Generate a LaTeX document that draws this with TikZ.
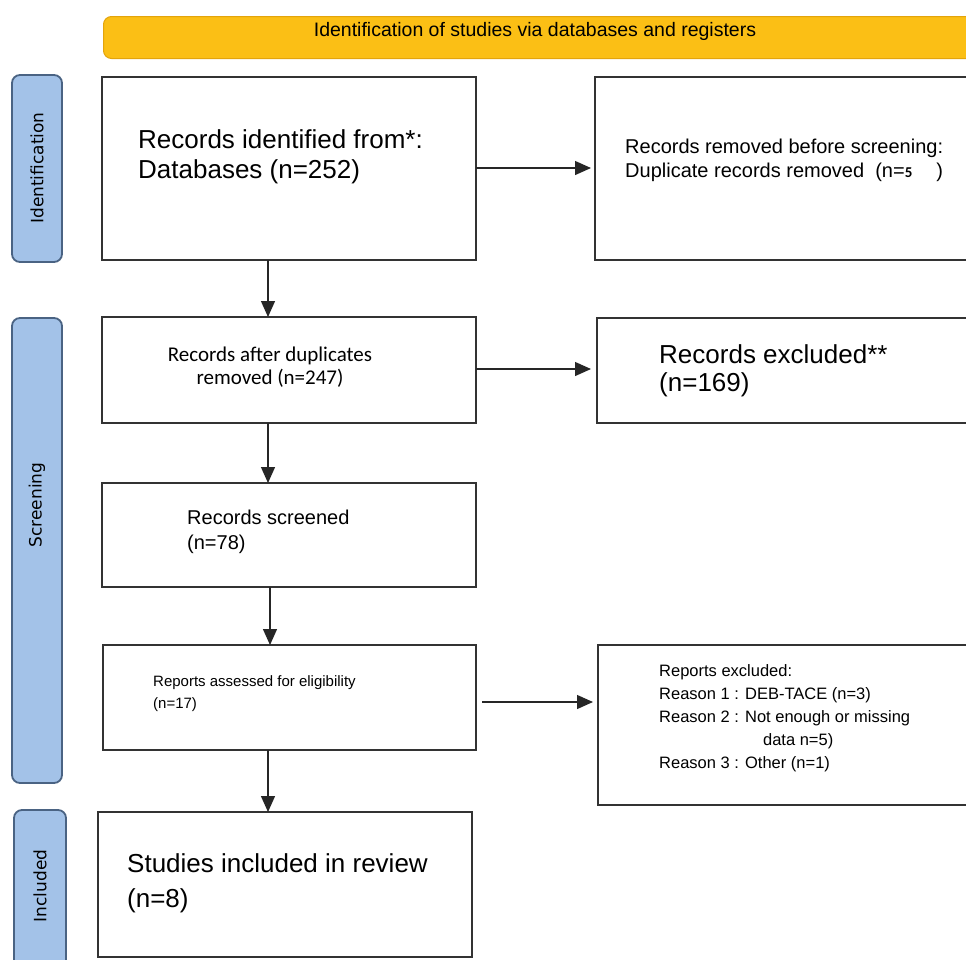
\documentclass[tikz,border=0pt]{standalone}
\usepackage{fontspec}
\setmainfont{Liberation Sans}
\newfontfamily\calfont{Carlito}
\newfontfamily\sidefont{DejaVu Sans}
\usetikzlibrary{arrows.meta,positioning,calc}
\definecolor{bannergold}{HTML}{FBBF15}
\definecolor{bannerline}{HTML}{E3A40C}
\definecolor{phaseblue}{HTML}{A3C2E8}
\definecolor{phaseline}{HTML}{4A6383}
\tikzset{
  bx/.style={rectangle,draw=black!80,line width=1.5pt,anchor=north west,inner sep=0pt,outer sep=0pt},
  phase/.style={rectangle,rounded corners=8pt,draw=phaseline,line width=1.8pt,fill=phaseblue,anchor=north west,inner sep=0pt,outer sep=0pt},
  phtxt/.style={rotate=90,font=\sidefont\fontsize{17}{20}\selectfont,inner sep=0pt},
  txt/.style={anchor=west,align=left,inner sep=0pt},
  arr/.style={-{Triangle[length=16pt,width=14pt]},line width=1.3pt,draw=black!85},
}

\begin{document}
\begin{tikzpicture}[x=1pt,y=-1pt]
  \useasboundingbox (0,0) rectangle (966,959);
  \clip (0,0) rectangle (966,959);
  % banner
  \node[rectangle,rounded corners=8pt,draw=bannerline,line width=1pt,fill=bannergold,anchor=north west,minimum width=880pt,minimum height=42pt] (top) at (103,16) {};
  \node[font=\fontsize{19.5}{22}\selectfont,inner sep=0pt] (toptxt) at (535,31) {Identification of studies via databases and registers};
  % phases
  \node[phase,minimum width=50pt,minimum height=187pt] (pid) at (12,75) {};
  \node[phase,minimum width=50pt,minimum height=465pt] (psc) at (12,318) {};
  \node[phase,minimum width=52pt,minimum height=170pt] (pin) at (14,810) {};
  \node[phtxt] (pidt) at (37,168) {Identification};
  \node[phtxt] (psct) at (37,505) {Screening};
  \node[phtxt] (pint) at (40,886) {Included};
  % boxes
  \node[bx,minimum width=374pt,minimum height=183pt] (ident) at (102,77) {};
  \node[bx,minimum width=380pt,minimum height=183pt] (removed) at (595,77) {};
  \node[bx,minimum width=374pt,minimum height=106pt] (afterdup) at (102,317) {};
  \node[bx,minimum width=380pt,minimum height=105pt] (excl) at (597,318) {};
  \node[bx,minimum width=374pt,minimum height=104pt] (screened) at (102,483) {};
  \node[bx,minimum width=373pt,minimum height=105pt] (assessed) at (103,645) {};
  \node[bx,minimum width=380pt,minimum height=160pt] (repexcl) at (598,645) {};
  \node[bx,minimum width=374pt,minimum height=145pt] (incl) at (98,812) {};
  % texts
  \node[txt,font=\fontsize{26}{30}\selectfont] (identt) at (138,157) {Records identified from*:\\Databases (n=252)};
  \node[txt,font=\fontsize{20}{24}\selectfont] (removedt) at (625,160) {Records removed before screening:\\Duplicate records removed\ \ (n={\calfont\bfseries\fontsize{15}{18}\selectfont 5}\hspace{24pt})};
  \node[align=center,inner sep=0pt,font=\calfont\fontsize{21}{23}\selectfont] (afterdupt) at (270,367) {Records after duplicates\\removed (n=247)};
  \node[txt,font=\fontsize{26}{28}\selectfont] (exclt) at (659,371) {Records excluded**\\(n=169)};
  \node[txt,font=\fontsize{20}{25}\selectfont] (screenedt) at (187,532) {Records screened\\(n=78)};
  \node[txt,font=\fontsize{15}{22}\selectfont] (assessedt) at (153,694) {Reports assessed for eligibility\\(n=17)};
  \node[txt,font=\fontsize{16.5}{23}\selectfont] (repexclt) at (659,718) {Reports excluded:\\Reason 1 : DEB-TACE (n=3)\\Reason 2 : Not enough or missing\\\phantom{Reason 2 : }\hspace{18pt}data n=5)\\Reason 3 : Other (n=1)};
  \node[txt,font=\fontsize{26}{35}\selectfont] (inclt) at (127,883) {Studies included in review\\(n=8)};
  % arrows
  \coordinate (ax) at (268,0);
  \coordinate (bx5) at (270,0);
  \coordinate (ay1) at (0,168);
  \coordinate (ay2) at (0,369);
  \coordinate (ay3) at (0,702);
  \draw[arr,shorten >=4pt] (ident.east |- ay1) -- (removed.west |- ay1);
  \draw[arr,shorten >=6pt] (afterdup.east |- ay2) -- (excl.west |- ay2);
  \draw[arr,shorten <=6pt,shorten >=5pt] (assessed.east |- ay3) -- (repexcl.west |- ay3);
  \draw[arr] (ident.south -| ax) -- (afterdup.north -| ax);
  \draw[arr] (afterdup.south -| ax) -- (screened.north -| ax);
  \draw[arr] (screened.south -| bx5) -- (assessed.north -| bx5);
  \draw[arr] (assessed.south -| ax) -- (incl.north -| ax);
\end{tikzpicture}
\end{document}
